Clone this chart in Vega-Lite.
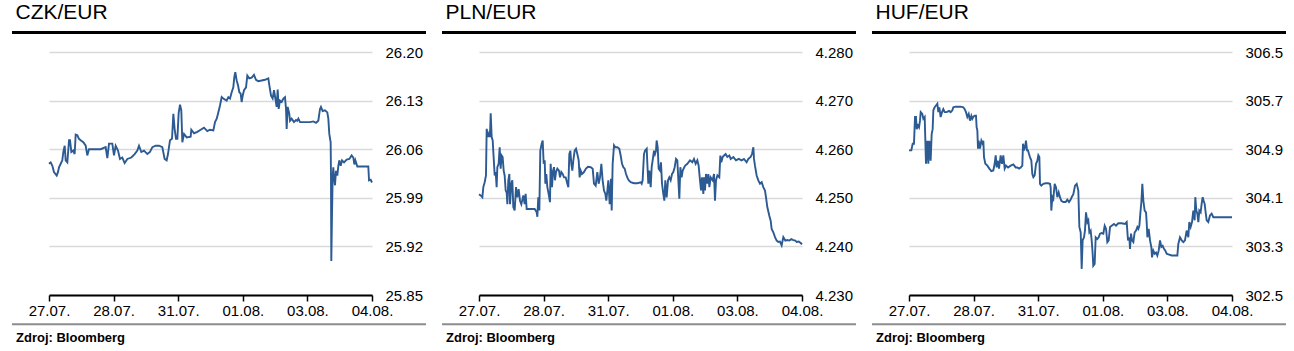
{
"$schema": "https://vega.github.io/schema/vega-lite/v6.json",
"background": "white",
"padding": {"left": 10, "top": 2, "right": 0, "bottom": 0},
"config": {"view": {"stroke": null}, "font": "Liberation Sans"},
"spacing": 12,
"datasets": {
"czk": [{"t":0.000,"v":26.039},{"t":0.026,"v":26.041},{"t":0.052,"v":26.036},{"t":0.077,"v":26.027},{"t":0.119,"v":26.022},{"t":0.139,"v":26.027},{"t":0.155,"v":26.034},{"t":0.181,"v":26.039},{"t":0.206,"v":26.044},{"t":0.222,"v":26.056},{"t":0.243,"v":26.065},{"t":0.258,"v":26.044},{"t":0.284,"v":26.041},{"t":0.310,"v":26.073},{"t":0.325,"v":26.073},{"t":0.346,"v":26.056},{"t":0.377,"v":26.058},{"t":0.397,"v":26.053},{"t":0.413,"v":26.081},{"t":0.439,"v":26.080},{"t":0.464,"v":26.075},{"t":0.490,"v":26.073},{"t":0.531,"v":26.070},{"t":0.568,"v":26.065},{"t":0.593,"v":26.051},{"t":0.619,"v":26.060},{"t":0.671,"v":26.060},{"t":0.722,"v":26.060},{"t":0.800,"v":26.060},{"t":0.877,"v":26.063},{"t":0.903,"v":26.047},{"t":0.929,"v":26.068},{"t":0.980,"v":26.068},{"t":1.006,"v":26.051},{"t":1.032,"v":26.065},{"t":1.068,"v":26.058},{"t":1.099,"v":26.046},{"t":1.135,"v":26.048},{"t":1.171,"v":26.040},{"t":1.213,"v":26.046},{"t":1.274,"v":26.048},{"t":1.326,"v":26.053},{"t":1.367,"v":26.058},{"t":1.393,"v":26.065},{"t":1.429,"v":26.056},{"t":1.471,"v":26.058},{"t":1.522,"v":26.053},{"t":1.563,"v":26.056},{"t":1.600,"v":26.063},{"t":1.651,"v":26.065},{"t":1.703,"v":26.065},{"t":1.754,"v":26.063},{"t":1.790,"v":26.046},{"t":1.821,"v":26.044},{"t":1.842,"v":26.053},{"t":1.873,"v":26.073},{"t":1.904,"v":26.075},{"t":1.925,"v":26.111},{"t":1.945,"v":26.089},{"t":1.966,"v":26.075},{"t":1.987,"v":26.075},{"t":2.007,"v":26.112},{"t":2.028,"v":26.124},{"t":2.048,"v":26.116},{"t":2.064,"v":26.070},{"t":2.090,"v":26.082},{"t":2.131,"v":26.077},{"t":2.193,"v":26.078},{"t":2.203,"v":26.088},{"t":2.245,"v":26.083},{"t":2.296,"v":26.085},{"t":2.348,"v":26.088},{"t":2.399,"v":26.091},{"t":2.451,"v":26.086},{"t":2.492,"v":26.088},{"t":2.544,"v":26.087},{"t":2.570,"v":26.099},{"t":2.596,"v":26.104},{"t":2.621,"v":26.113},{"t":2.647,"v":26.123},{"t":2.673,"v":26.135},{"t":2.698,"v":26.133},{"t":2.750,"v":26.130},{"t":2.776,"v":26.135},{"t":2.802,"v":26.133},{"t":2.828,"v":26.142},{"t":2.853,"v":26.149},{"t":2.869,"v":26.164},{"t":2.884,"v":26.171},{"t":2.905,"v":26.159},{"t":2.926,"v":26.152},{"t":2.946,"v":26.142},{"t":2.967,"v":26.140},{"t":2.982,"v":26.128},{"t":2.998,"v":26.137},{"t":3.019,"v":26.145},{"t":3.050,"v":26.149},{"t":3.070,"v":26.166},{"t":3.101,"v":26.162},{"t":3.137,"v":26.163},{"t":3.173,"v":26.167},{"t":3.204,"v":26.160},{"t":3.240,"v":26.158},{"t":3.292,"v":26.159},{"t":3.344,"v":26.160},{"t":3.395,"v":26.162},{"t":3.411,"v":26.152},{"t":3.437,"v":26.137},{"t":3.462,"v":26.133},{"t":3.483,"v":26.145},{"t":3.504,"v":26.133},{"t":3.524,"v":26.121},{"t":3.540,"v":26.146},{"t":3.555,"v":26.118},{"t":3.576,"v":26.130},{"t":3.602,"v":26.128},{"t":3.628,"v":26.133},{"t":3.653,"v":26.135},{"t":3.669,"v":26.118},{"t":3.679,"v":26.089},{"t":3.695,"v":26.121},{"t":3.720,"v":26.111},{"t":3.731,"v":26.101},{"t":3.756,"v":26.104},{"t":3.792,"v":26.099},{"t":3.824,"v":26.102},{"t":3.844,"v":26.101},{"t":3.860,"v":26.104},{"t":3.886,"v":26.099},{"t":3.937,"v":26.099},{"t":3.989,"v":26.099},{"t":4.040,"v":26.099},{"t":4.092,"v":26.100},{"t":4.133,"v":26.098},{"t":4.169,"v":26.101},{"t":4.195,"v":26.118},{"t":4.210,"v":26.121},{"t":4.236,"v":26.115},{"t":4.272,"v":26.116},{"t":4.308,"v":26.113},{"t":4.324,"v":26.104},{"t":4.339,"v":26.082},{"t":4.360,"v":26.070},{"t":4.365,"v":26.024},{"t":4.370,"v":25.899},{"t":4.381,"v":25.967},{"t":4.391,"v":26.020},{"t":4.401,"v":26.034},{"t":4.412,"v":26.020},{"t":4.427,"v":26.008},{"t":4.443,"v":26.029},{"t":4.463,"v":26.022},{"t":4.479,"v":26.036},{"t":4.494,"v":26.044},{"t":4.515,"v":26.036},{"t":4.536,"v":26.044},{"t":4.567,"v":26.041},{"t":4.608,"v":26.045},{"t":4.649,"v":26.046},{"t":4.685,"v":26.051},{"t":4.711,"v":26.048},{"t":4.727,"v":26.038},{"t":4.742,"v":26.044},{"t":4.773,"v":26.035},{"t":4.840,"v":26.035},{"t":4.918,"v":26.035},{"t":4.943,"v":26.035},{"t":4.954,"v":26.015},{"t":4.979,"v":26.016},{"t":5.000,"v":26.012}],
"pln": [{"t":0.000,"v":4.2507},{"t":0.026,"v":4.2505},{"t":0.052,"v":4.2501},{"t":0.067,"v":4.2522},{"t":0.088,"v":4.2532},{"t":0.108,"v":4.2546},{"t":0.119,"v":4.2642},{"t":0.139,"v":4.2625},{"t":0.155,"v":4.2632},{"t":0.170,"v":4.2625},{"t":0.181,"v":4.2674},{"t":0.196,"v":4.2625},{"t":0.212,"v":4.2618},{"t":0.222,"v":4.2594},{"t":0.243,"v":4.2546},{"t":0.258,"v":4.2553},{"t":0.273,"v":4.2522},{"t":0.284,"v":4.2563},{"t":0.304,"v":4.2570},{"t":0.320,"v":4.2604},{"t":0.335,"v":4.2560},{"t":0.351,"v":4.2587},{"t":0.366,"v":4.2584},{"t":0.382,"v":4.2556},{"t":0.397,"v":4.2546},{"t":0.413,"v":4.2515},{"t":0.428,"v":4.2511},{"t":0.439,"v":4.2487},{"t":0.454,"v":4.2536},{"t":0.470,"v":4.2549},{"t":0.480,"v":4.2487},{"t":0.501,"v":4.2529},{"t":0.516,"v":4.2536},{"t":0.531,"v":4.2481},{"t":0.552,"v":4.2474},{"t":0.573,"v":4.2522},{"t":0.593,"v":4.2501},{"t":0.614,"v":4.2518},{"t":0.635,"v":4.2494},{"t":0.655,"v":4.2487},{"t":0.686,"v":4.2505},{"t":0.707,"v":4.2487},{"t":0.722,"v":4.2508},{"t":0.738,"v":4.2477},{"t":0.774,"v":4.2477},{"t":0.826,"v":4.2477},{"t":0.862,"v":4.2477},{"t":0.893,"v":4.2470},{"t":0.903,"v":4.2461},{"t":0.918,"v":4.2501},{"t":0.934,"v":4.2474},{"t":0.949,"v":4.2597},{"t":0.970,"v":4.2611},{"t":0.986,"v":4.2618},{"t":1.001,"v":4.2570},{"t":1.017,"v":4.2577},{"t":1.027,"v":4.2529},{"t":1.042,"v":4.2549},{"t":1.058,"v":4.2522},{"t":1.078,"v":4.2508},{"t":1.099,"v":4.2491},{"t":1.109,"v":4.2570},{"t":1.130,"v":4.2522},{"t":1.146,"v":4.2556},{"t":1.161,"v":4.2563},{"t":1.176,"v":4.2536},{"t":1.192,"v":4.2553},{"t":1.213,"v":4.2560},{"t":1.238,"v":4.2556},{"t":1.254,"v":4.2542},{"t":1.274,"v":4.2553},{"t":1.295,"v":4.2549},{"t":1.316,"v":4.2542},{"t":1.342,"v":4.2542},{"t":1.367,"v":4.2529},{"t":1.383,"v":4.2522},{"t":1.398,"v":4.2590},{"t":1.414,"v":4.2597},{"t":1.429,"v":4.2570},{"t":1.445,"v":4.2556},{"t":1.460,"v":4.2577},{"t":1.481,"v":4.2597},{"t":1.502,"v":4.2601},{"t":1.522,"v":4.2590},{"t":1.543,"v":4.2577},{"t":1.558,"v":4.2542},{"t":1.574,"v":4.2556},{"t":1.594,"v":4.2549},{"t":1.625,"v":4.2553},{"t":1.656,"v":4.2560},{"t":1.687,"v":4.2564},{"t":1.729,"v":4.2563},{"t":1.760,"v":4.2560},{"t":1.780,"v":4.2529},{"t":1.806,"v":4.2525},{"t":1.832,"v":4.2553},{"t":1.852,"v":4.2529},{"t":1.873,"v":4.2542},{"t":1.894,"v":4.2570},{"t":1.914,"v":4.2536},{"t":1.935,"v":4.2515},{"t":1.956,"v":4.2508},{"t":1.971,"v":4.2494},{"t":1.987,"v":4.2515},{"t":2.002,"v":4.2536},{"t":2.023,"v":4.2487},{"t":2.043,"v":4.2539},{"t":2.054,"v":4.2474},{"t":2.069,"v":4.2570},{"t":2.090,"v":4.2608},{"t":2.110,"v":4.2604},{"t":2.141,"v":4.2604},{"t":2.172,"v":4.2601},{"t":2.193,"v":4.2587},{"t":2.214,"v":4.2570},{"t":2.234,"v":4.2563},{"t":2.255,"v":4.2560},{"t":2.276,"v":4.2549},{"t":2.296,"v":4.2542},{"t":2.317,"v":4.2536},{"t":2.348,"v":4.2532},{"t":2.399,"v":4.2530},{"t":2.451,"v":4.2530},{"t":2.503,"v":4.2532},{"t":2.518,"v":4.2529},{"t":2.533,"v":4.2536},{"t":2.554,"v":4.2590},{"t":2.570,"v":4.2597},{"t":2.596,"v":4.2601},{"t":2.606,"v":4.2570},{"t":2.621,"v":4.2529},{"t":2.637,"v":4.2556},{"t":2.658,"v":4.2522},{"t":2.673,"v":4.2563},{"t":2.688,"v":4.2577},{"t":2.709,"v":4.2597},{"t":2.724,"v":4.2590},{"t":2.740,"v":4.2597},{"t":2.750,"v":4.2618},{"t":2.766,"v":4.2604},{"t":2.781,"v":4.2560},{"t":2.802,"v":4.2556},{"t":2.817,"v":4.2573},{"t":2.833,"v":4.2529},{"t":2.853,"v":4.2508},{"t":2.869,"v":4.2494},{"t":2.884,"v":4.2536},{"t":2.905,"v":4.2501},{"t":2.926,"v":4.2536},{"t":2.946,"v":4.2542},{"t":2.967,"v":4.2536},{"t":2.988,"v":4.2549},{"t":3.008,"v":4.2553},{"t":3.029,"v":4.2563},{"t":3.050,"v":4.2580},{"t":3.070,"v":4.2577},{"t":3.086,"v":4.2536},{"t":3.101,"v":4.2498},{"t":3.117,"v":4.2563},{"t":3.137,"v":4.2542},{"t":3.153,"v":4.2556},{"t":3.189,"v":4.2566},{"t":3.225,"v":4.2570},{"t":3.266,"v":4.2577},{"t":3.302,"v":4.2573},{"t":3.328,"v":4.2580},{"t":3.354,"v":4.2570},{"t":3.380,"v":4.2577},{"t":3.400,"v":4.2566},{"t":3.421,"v":4.2536},{"t":3.437,"v":4.2515},{"t":3.452,"v":4.2542},{"t":3.473,"v":4.2508},{"t":3.483,"v":4.2542},{"t":3.498,"v":4.2515},{"t":3.514,"v":4.2549},{"t":3.535,"v":4.2529},{"t":3.550,"v":4.2549},{"t":3.566,"v":4.2522},{"t":3.586,"v":4.2542},{"t":3.617,"v":4.2536},{"t":3.638,"v":4.2549},{"t":3.653,"v":4.2494},{"t":3.669,"v":4.2536},{"t":3.690,"v":4.2546},{"t":3.720,"v":4.2542},{"t":3.736,"v":4.2587},{"t":3.751,"v":4.2573},{"t":3.772,"v":4.2584},{"t":3.793,"v":4.2587},{"t":3.818,"v":4.2590},{"t":3.844,"v":4.2584},{"t":3.875,"v":4.2587},{"t":3.896,"v":4.2580},{"t":3.937,"v":4.2584},{"t":3.978,"v":4.2577},{"t":4.020,"v":4.2580},{"t":4.066,"v":4.2577},{"t":4.102,"v":4.2580},{"t":4.143,"v":4.2573},{"t":4.169,"v":4.2580},{"t":4.205,"v":4.2584},{"t":4.226,"v":4.2590},{"t":4.247,"v":4.2604},{"t":4.257,"v":4.2580},{"t":4.272,"v":4.2566},{"t":4.298,"v":4.2546},{"t":4.324,"v":4.2536},{"t":4.350,"v":4.2529},{"t":4.376,"v":4.2532},{"t":4.401,"v":4.2522},{"t":4.427,"v":4.2515},{"t":4.443,"v":4.2501},{"t":4.463,"v":4.2481},{"t":4.494,"v":4.2463},{"t":4.515,"v":4.2453},{"t":4.530,"v":4.2436},{"t":4.556,"v":4.2429},{"t":4.582,"v":4.2419},{"t":4.608,"v":4.2412},{"t":4.633,"v":4.2409},{"t":4.659,"v":4.2410},{"t":4.685,"v":4.2402},{"t":4.711,"v":4.2419},{"t":4.742,"v":4.2412},{"t":4.773,"v":4.2413},{"t":4.804,"v":4.2412},{"t":4.835,"v":4.2415},{"t":4.866,"v":4.2413},{"t":4.897,"v":4.2412},{"t":4.918,"v":4.2409},{"t":4.949,"v":4.2410},{"t":4.980,"v":4.2407},{"t":5.000,"v":4.2404}],
"huf": [{"t":0.000,"v":304.88},{"t":0.036,"v":304.88},{"t":0.057,"v":304.99},{"t":0.077,"v":304.99},{"t":0.093,"v":305.43},{"t":0.108,"v":305.43},{"t":0.119,"v":305.23},{"t":0.139,"v":305.29},{"t":0.155,"v":305.26},{"t":0.170,"v":305.37},{"t":0.181,"v":305.51},{"t":0.206,"v":305.48},{"t":0.222,"v":305.40},{"t":0.243,"v":305.43},{"t":0.253,"v":305.04},{"t":0.263,"v":304.66},{"t":0.284,"v":305.04},{"t":0.299,"v":304.66},{"t":0.315,"v":305.04},{"t":0.335,"v":304.71},{"t":0.351,"v":305.15},{"t":0.366,"v":305.23},{"t":0.377,"v":305.54},{"t":0.397,"v":305.59},{"t":0.418,"v":305.62},{"t":0.439,"v":305.65},{"t":0.454,"v":305.51},{"t":0.470,"v":305.59},{"t":0.490,"v":305.43},{"t":0.511,"v":305.51},{"t":0.531,"v":305.56},{"t":0.552,"v":305.51},{"t":0.583,"v":305.51},{"t":0.619,"v":305.53},{"t":0.645,"v":305.51},{"t":0.671,"v":305.54},{"t":0.686,"v":305.59},{"t":0.722,"v":305.60},{"t":0.759,"v":305.60},{"t":0.800,"v":305.60},{"t":0.841,"v":305.59},{"t":0.862,"v":305.56},{"t":0.882,"v":305.51},{"t":0.903,"v":305.43},{"t":0.924,"v":305.48},{"t":0.944,"v":305.37},{"t":0.965,"v":305.45},{"t":0.980,"v":305.40},{"t":1.001,"v":305.44},{"t":1.017,"v":305.45},{"t":1.037,"v":305.45},{"t":1.047,"v":305.26},{"t":1.058,"v":305.21},{"t":1.068,"v":304.91},{"t":1.078,"v":305.04},{"t":1.099,"v":304.91},{"t":1.120,"v":305.04},{"t":1.140,"v":304.99},{"t":1.151,"v":305.04},{"t":1.161,"v":304.77},{"t":1.182,"v":304.66},{"t":1.213,"v":304.63},{"t":1.244,"v":304.58},{"t":1.274,"v":304.54},{"t":1.305,"v":304.55},{"t":1.326,"v":304.66},{"t":1.342,"v":304.80},{"t":1.357,"v":304.60},{"t":1.378,"v":304.71},{"t":1.393,"v":304.58},{"t":1.419,"v":304.80},{"t":1.440,"v":304.66},{"t":1.460,"v":304.80},{"t":1.481,"v":304.58},{"t":1.502,"v":304.63},{"t":1.533,"v":304.60},{"t":1.574,"v":304.63},{"t":1.615,"v":304.65},{"t":1.651,"v":304.60},{"t":1.677,"v":304.60},{"t":1.703,"v":304.58},{"t":1.729,"v":304.60},{"t":1.754,"v":304.63},{"t":1.765,"v":304.99},{"t":1.780,"v":304.88},{"t":1.796,"v":304.93},{"t":1.811,"v":305.04},{"t":1.827,"v":304.88},{"t":1.842,"v":304.88},{"t":1.858,"v":304.82},{"t":1.873,"v":304.77},{"t":1.894,"v":304.71},{"t":1.909,"v":304.49},{"t":1.925,"v":304.44},{"t":1.945,"v":304.47},{"t":1.966,"v":304.66},{"t":1.987,"v":304.71},{"t":2.002,"v":304.80},{"t":2.018,"v":304.77},{"t":2.028,"v":304.33},{"t":2.048,"v":304.30},{"t":2.079,"v":304.33},{"t":2.116,"v":304.34},{"t":2.152,"v":304.34},{"t":2.183,"v":304.33},{"t":2.193,"v":304.27},{"t":2.203,"v":303.89},{"t":2.219,"v":304.11},{"t":2.234,"v":304.08},{"t":2.255,"v":304.33},{"t":2.276,"v":304.27},{"t":2.296,"v":304.11},{"t":2.317,"v":304.19},{"t":2.337,"v":304.11},{"t":2.358,"v":304.05},{"t":2.389,"v":304.03},{"t":2.425,"v":304.03},{"t":2.451,"v":304.07},{"t":2.477,"v":304.03},{"t":2.503,"v":304.07},{"t":2.518,"v":304.11},{"t":2.544,"v":304.16},{"t":2.570,"v":304.30},{"t":2.596,"v":304.33},{"t":2.621,"v":304.22},{"t":2.637,"v":303.62},{"t":2.658,"v":303.53},{"t":2.673,"v":302.93},{"t":2.688,"v":303.40},{"t":2.709,"v":303.45},{"t":2.724,"v":303.56},{"t":2.740,"v":303.86},{"t":2.761,"v":303.70},{"t":2.776,"v":303.73},{"t":2.792,"v":303.53},{"t":2.812,"v":303.56},{"t":2.828,"v":303.40},{"t":2.843,"v":303.18},{"t":2.853,"v":302.98},{"t":2.874,"v":303.01},{"t":2.890,"v":303.45},{"t":2.915,"v":303.42},{"t":2.936,"v":303.45},{"t":2.957,"v":303.51},{"t":2.982,"v":303.52},{"t":3.008,"v":303.51},{"t":3.029,"v":303.64},{"t":3.050,"v":303.59},{"t":3.070,"v":303.37},{"t":3.091,"v":303.40},{"t":3.112,"v":303.62},{"t":3.137,"v":303.64},{"t":3.173,"v":303.67},{"t":3.204,"v":303.64},{"t":3.240,"v":303.68},{"t":3.292,"v":303.68},{"t":3.344,"v":303.67},{"t":3.370,"v":303.70},{"t":3.390,"v":303.40},{"t":3.411,"v":303.45},{"t":3.421,"v":303.26},{"t":3.437,"v":303.51},{"t":3.452,"v":303.40},{"t":3.473,"v":303.37},{"t":3.493,"v":303.53},{"t":3.514,"v":303.56},{"t":3.535,"v":303.62},{"t":3.550,"v":303.59},{"t":3.566,"v":303.64},{"t":3.581,"v":303.84},{"t":3.597,"v":304.03},{"t":3.612,"v":304.33},{"t":3.628,"v":304.05},{"t":3.648,"v":303.89},{"t":3.669,"v":303.86},{"t":3.679,"v":303.70},{"t":3.690,"v":303.45},{"t":3.710,"v":303.59},{"t":3.731,"v":303.40},{"t":3.751,"v":303.29},{"t":3.762,"v":303.12},{"t":3.782,"v":303.23},{"t":3.803,"v":303.18},{"t":3.824,"v":303.20},{"t":3.844,"v":303.15},{"t":3.865,"v":303.23},{"t":3.886,"v":303.40},{"t":3.906,"v":303.29},{"t":3.927,"v":303.31},{"t":3.947,"v":303.26},{"t":3.968,"v":303.23},{"t":3.989,"v":303.18},{"t":4.015,"v":303.17},{"t":4.066,"v":303.15},{"t":4.118,"v":303.15},{"t":4.154,"v":303.15},{"t":4.169,"v":303.34},{"t":4.195,"v":303.45},{"t":4.221,"v":303.40},{"t":4.247,"v":303.37},{"t":4.272,"v":303.40},{"t":4.298,"v":303.56},{"t":4.324,"v":303.45},{"t":4.339,"v":303.70},{"t":4.360,"v":303.62},{"t":4.381,"v":303.70},{"t":4.401,"v":303.89},{"t":4.422,"v":303.73},{"t":4.432,"v":304.11},{"t":4.448,"v":303.89},{"t":4.463,"v":303.84},{"t":4.479,"v":303.70},{"t":4.494,"v":303.89},{"t":4.515,"v":303.86},{"t":4.530,"v":304.00},{"t":4.546,"v":304.11},{"t":4.561,"v":304.05},{"t":4.577,"v":304.00},{"t":4.592,"v":303.86},{"t":4.608,"v":303.73},{"t":4.633,"v":303.70},{"t":4.659,"v":303.81},{"t":4.685,"v":303.84},{"t":4.711,"v":303.78},{"t":4.763,"v":303.78},{"t":4.866,"v":303.78},{"t":4.969,"v":303.78},{"t":5.000,"v":303.78}]
},
"hconcat": [
{
"width": 323, "height": 243,
"title": {"text": "CZK/EUR", "anchor": "start", "fontSize": 21, "fontWeight": "normal", "color": "#000000", "offset": -9, "dx": 5, "baseline": "alphabetic"},
"layer": [
{"data": {"name": "czk"}, "mark": {"type": "line", "color": "#2c5a93", "strokeWidth": 1.9},
"encoding": {
"x": {"field": "t", "type": "quantitative", "scale": {"domain": [0, 5], "nice": false}, "axis": {"title": null, "values": [0,1,2,3,4,5], "labelExpr": "['27.07.','28.07.','31.07.','01.08.','03.08.','04.08.'][datum.value]", "labelFlush": false, "labelOverlap": false, "grid": false, "domainColor": "#000000", "domainWidth": 2, "tickColor": "#000000", "tickWidth": 1.5, "tickSize": 6, "labelPadding": 2, "labelFontSize": 15, "labelColor": "#000000"}},
"y": {"field": "v", "type": "quantitative", "scale": {"domain": [25.85, 26.20], "nice": false, "zero": false}, "axis": {"title": null, "orient": "right", "values": [25.85, 25.92, 25.99, 26.06, 26.13, 26.20], "format": ".2f", "ticks": false, "domain": false, "labelPadding": 13, "labelFontSize": 15, "labelColor": "#000000", "grid": true, "gridColor": "#d9d9d9", "gridWidth": 1.7}}
}},
{"data": {"values": [{}]}, "mark": {"type": "rule", "color": "#000000", "strokeWidth": 3}, "encoding": {"x": {"value": -37}, "x2": {"value": 377}, "y": {"value": -19.5}}},
{"data": {"values": [{}]}, "mark": {"type": "rule", "color": "#8c8c8c", "strokeWidth": 2}, "encoding": {"x": {"value": -37}, "x2": {"value": 377}, "y": {"value": 272.3}}},
{"data": {"values": [{}]}, "mark": {"type": "text", "align": "left", "baseline": "alphabetic", "fontSize": 13, "fontWeight": "bold", "color": "#000000"}, "encoding": {"x": {"value": -33}, "y": {"value": 289.7}, "text": {"value": "Zdroj: Bloomberg"}}}
]
},
{
"width": 323, "height": 243,
"title": {"text": "PLN/EUR", "anchor": "start", "fontSize": 21, "fontWeight": "normal", "color": "#000000", "offset": -9, "dx": 5, "baseline": "alphabetic"},
"layer": [
{"data": {"name": "pln"}, "mark": {"type": "line", "color": "#2c5a93", "strokeWidth": 1.9},
"encoding": {
"x": {"field": "t", "type": "quantitative", "scale": {"domain": [0, 5], "nice": false}, "axis": {"title": null, "values": [0,1,2,3,4,5], "labelExpr": "['27.07.','28.07.','31.07.','01.08.','03.08.','04.08.'][datum.value]", "labelFlush": false, "labelOverlap": false, "grid": false, "domainColor": "#000000", "domainWidth": 2, "tickColor": "#000000", "tickWidth": 1.5, "tickSize": 6, "labelPadding": 2, "labelFontSize": 15, "labelColor": "#000000"}},
"y": {"field": "v", "type": "quantitative", "scale": {"domain": [4.23, 4.28], "nice": false, "zero": false}, "axis": {"title": null, "orient": "right", "values": [4.23, 4.24, 4.25, 4.26, 4.27, 4.28], "format": ".3f", "ticks": false, "domain": false, "labelPadding": 13, "labelFontSize": 15, "labelColor": "#000000", "grid": true, "gridColor": "#d9d9d9", "gridWidth": 1.7}}
}},
{"data": {"values": [{}]}, "mark": {"type": "rule", "color": "#000000", "strokeWidth": 3}, "encoding": {"x": {"value": -37}, "x2": {"value": 377}, "y": {"value": -19.5}}},
{"data": {"values": [{}]}, "mark": {"type": "rule", "color": "#8c8c8c", "strokeWidth": 2}, "encoding": {"x": {"value": -37}, "x2": {"value": 377}, "y": {"value": 272.3}}},
{"data": {"values": [{}]}, "mark": {"type": "text", "align": "left", "baseline": "alphabetic", "fontSize": 13, "fontWeight": "bold", "color": "#000000"}, "encoding": {"x": {"value": -33}, "y": {"value": 289.7}, "text": {"value": "Zdroj: Bloomberg"}}}
]
},
{
"width": 323, "height": 243,
"title": {"text": "HUF/EUR", "anchor": "start", "fontSize": 21, "fontWeight": "normal", "color": "#000000", "offset": -9, "dx": 5, "baseline": "alphabetic"},
"layer": [
{"data": {"name": "huf"}, "mark": {"type": "line", "color": "#2c5a93", "strokeWidth": 1.9},
"encoding": {
"x": {"field": "t", "type": "quantitative", "scale": {"domain": [0, 5], "nice": false}, "axis": {"title": null, "values": [0,1,2,3,4,5], "labelExpr": "['27.07.','28.07.','31.07.','01.08.','03.08.','04.08.'][datum.value]", "labelFlush": false, "labelOverlap": false, "grid": false, "domainColor": "#000000", "domainWidth": 2, "tickColor": "#000000", "tickWidth": 1.5, "tickSize": 6, "labelPadding": 2, "labelFontSize": 15, "labelColor": "#000000"}},
"y": {"field": "v", "type": "quantitative", "scale": {"domain": [302.5, 306.5], "nice": false, "zero": false}, "axis": {"title": null, "orient": "right", "values": [302.5, 303.3, 304.1, 304.9, 305.7, 306.5], "format": ".1f", "ticks": false, "domain": false, "labelPadding": 13, "labelFontSize": 15, "labelColor": "#000000", "grid": true, "gridColor": "#d9d9d9", "gridWidth": 1.7}}
}},
{"data": {"values": [{}]}, "mark": {"type": "rule", "color": "#000000", "strokeWidth": 3}, "encoding": {"x": {"value": -37}, "x2": {"value": 377}, "y": {"value": -19.5}}},
{"data": {"values": [{}]}, "mark": {"type": "rule", "color": "#8c8c8c", "strokeWidth": 2}, "encoding": {"x": {"value": -37}, "x2": {"value": 377}, "y": {"value": 272.3}}},
{"data": {"values": [{}]}, "mark": {"type": "text", "align": "left", "baseline": "alphabetic", "fontSize": 13, "fontWeight": "bold", "color": "#000000"}, "encoding": {"x": {"value": -33}, "y": {"value": 289.7}, "text": {"value": "Zdroj: Bloomberg"}}}
]
}
]
}
